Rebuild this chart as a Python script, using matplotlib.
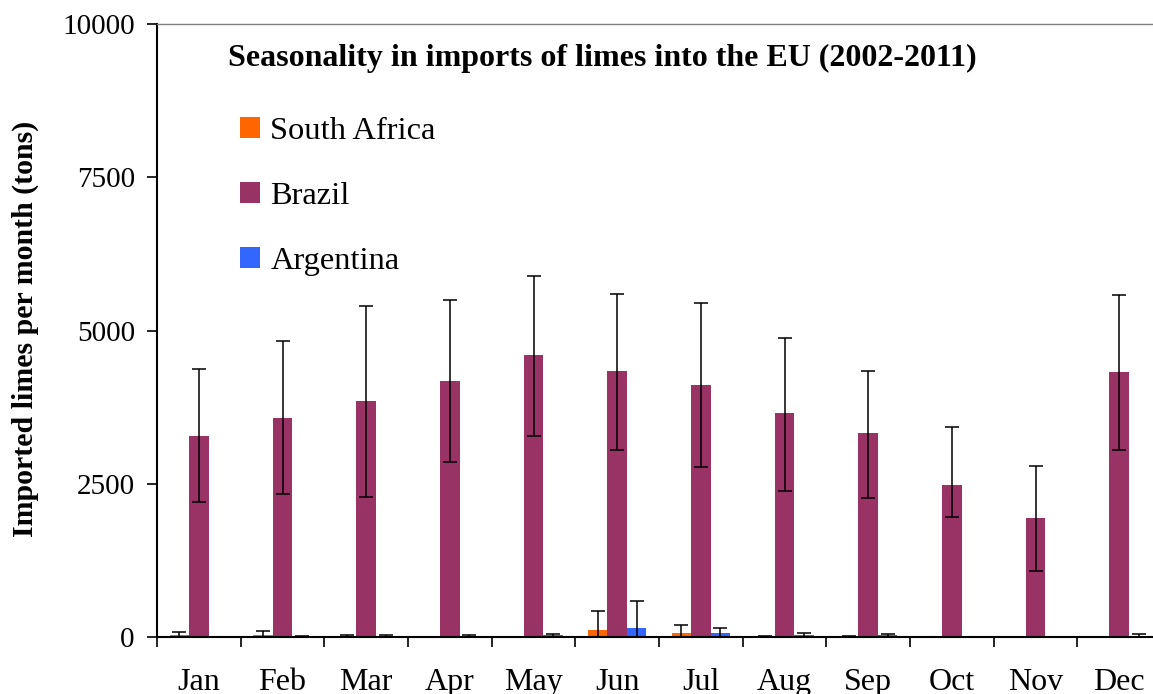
import numpy as np
import matplotlib
matplotlib.use("Agg")
import matplotlib.pyplot as plt
from matplotlib.patches import Patch

plt.rcParams['font.family'] = ['Liberation Serif', 'DejaVu Serif']

months = ["Jan", "Feb", "Mar", "Apr", "May", "Jun",
          "Jul", "Aug", "Sep", "Oct", "Nov", "Dec"]

# mean monthly imports (tons)
south_africa = [40, 40, 10, 3, 3, 115, 65, 10, 10, 3, 3, 3]
brazil = [3280, 3576, 3853, 4179, 4603, 4342, 4114, 3657, 3331, 2483, 1945, 4326]
argentina = [0, 5, 15, 15, 25, 150, 65, 25, 25, 3, 0, 10]

# error bars
south_africa_err = [35, 60, 15, 0, 0, 305, 125, 10, 10, 0, 0, 0]
brazil_err_lo = [1085, 1244, 1565, 1332, 1316, 1288, 1337, 1272, 1065, 523, 876, 1272]
brazil_err_hi = [1085, 1255, 1554, 1321, 1293, 1256, 1342, 1218, 1011, 951, 853, 1250]
argentina_err = [0, 5, 15, 15, 30, 430, 85, 45, 30, 0, 0, 40]

series_names = ["South Africa", "Brazil", "Argentina"]
colors = ["#FF6600", "#993366", "#3366FF"]

fig = plt.figure(figsize=(11.53, 6.94), dpi=100)
ax = fig.add_axes([0.1362, 0.0821, 0.8708, 0.8833])

x = np.arange(len(months)) + 0.5
w = 0.233
err_kw = dict(ecolor="black", elinewidth=1.1, capsize=5, capthick=1.1)

ax.bar(x - w, south_africa, w, color=colors[0], yerr=south_africa_err,
       error_kw=err_kw, zorder=2)
ax.bar(x, brazil, w, color=colors[1], yerr=[brazil_err_lo, brazil_err_hi],
       error_kw=err_kw, zorder=2)
ax.bar(x + w, argentina, w, color=colors[2], yerr=argentina_err,
       error_kw=err_kw, zorder=2)

ax.set_xlim(0, 12)
ax.set_ylim(0, 10000)
ax.set_yticks([0, 2500, 5000, 7500, 10000])
ax.tick_params(axis="y", direction="out", length=7, width=1.2, pad=9, labelsize=21)

# month boundaries as ticks, names centred between them
ax.set_xticks(np.arange(0, 13))
ax.set_xticklabels([])
ax.set_xticks(x, minor=True)
ax.set_xticklabels(months, minor=True)
ax.tick_params(axis="x", which="major", direction="out", length=7, width=1.2)
ax.tick_params(axis="x", which="minor", length=0, pad=22, labelsize=23)

for side in ["left", "bottom"]:
    ax.spines[side].set_linewidth(1.5)
    ax.spines[side].set_color("black")
ax.spines["top"].set_color("#808080")
ax.spines["top"].set_linewidth(1.0)
ax.spines["right"].set_visible(False)

ax.text(0.4437, 0.944, "Seasonality in imports of limes into the EU (2002-2011)",
        transform=ax.transAxes, ha="center", va="center",
        fontsize=23, fontweight="bold")

fig.text(25 / 1153, 1 - 329 / 694, "Imported limes per month (tons)",
         rotation=90, ha="center", va="center", fontsize=21.5, fontweight="bold")

handles = [Patch(facecolor=c, edgecolor="none") for c in colors]
ax.legend(handles, series_names, loc="upper left", bbox_to_anchor=(0.07, 0.8695),
          frameon=False, fontsize=23.4, handlelength=0.62, handleheight=0.62,
          handletextpad=0.3, labelspacing=1.1, borderaxespad=0)

fig.savefig("out.png", dpi=100)
